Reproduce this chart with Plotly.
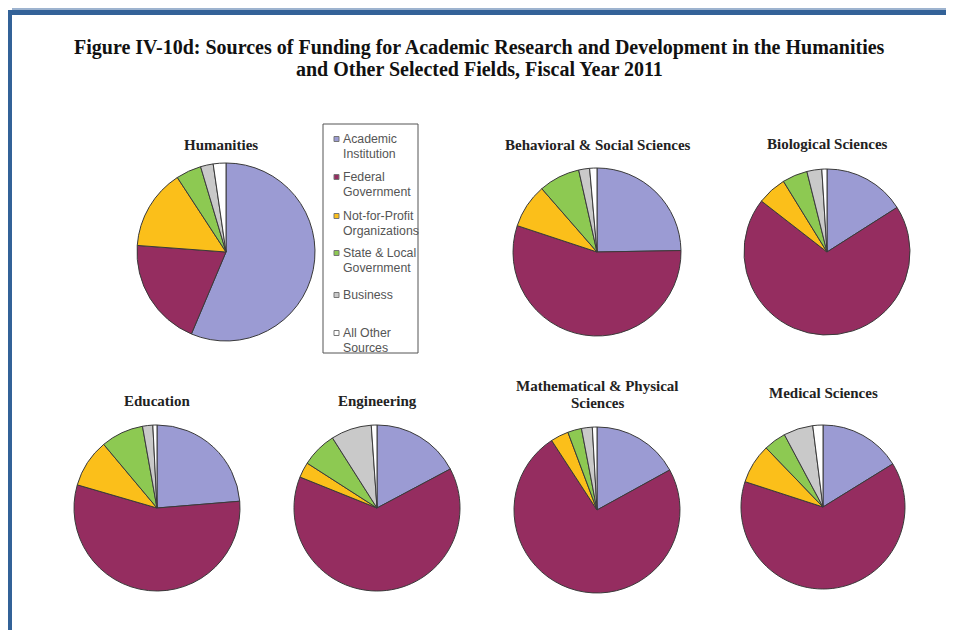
import plotly.graph_objects as go

# ---------------- data ----------------
sources = ["Academic Institution", "Federal Government", "Not-for-Profit Organizations",
           "State & Local Government", "Business", "All Other Sources"]
legend_lines = [["Academic", "Institution"], ["Federal", "Government"],
                ["Not-for-Profit", "Organizations"], ["State & Local", "Government"],
                ["Business"], ["All Other", "Sources"]]
colors = ["#9b9bd3", "#952d60", "#fbbf1a", "#8dc952", "#c9c9c9", "#ffffff"]

fields = ["Humanities", "Behavioral & Social Sciences", "Biological Sciences", "Education",
          "Engineering", "Mathematical & Physical<br>Sciences", "Medical Sciences"]

humanities = [56.3, 19.8, 14.6, 4.6, 2.3, 2.3]
behavioral = [24.7, 55.3, 8.5, 7.9, 2.1, 1.4]
biological = [16.0, 69.6, 5.7, 4.9, 2.9, 1.0]
education = [23.7, 55.8, 9.4, 8.3, 2.0, 0.8]
engineering = [17.2, 63.8, 3.0, 6.9, 7.9, 1.1]
math_physical = [17.0, 73.8, 3.5, 2.7, 2.1, 0.9]
medical = [16.2, 63.8, 7.8, 4.4, 5.8, 2.0]
series = [humanities, behavioral, biological, education, engineering, math_physical, medical]

title_lines = ["Figure IV-10d: Sources of Funding for Academic Research and Development in the Humanities",
               "and Other Selected Fields, Fiscal Year 2011"]

# ---------------- layout geometry (page pixels) ----------------
OFF = 8                      # page body margin in the browser
W, H = 954 - OFF, 630 - OFF  # figure size
pie_geom = [(226, 252, 89), (597, 252, 84), (827, 252, 83), (157, 508, 83),
            (377, 508, 83), (597, 510, 83), (823, 507, 82)]
title_pos = [(221, 145), (598, 145), (827, 144), (157, 401), (377, 401), (597, 394.5), (823, 393)]

def px(x):
    return (x - OFF) / W

def py(y):
    return 1 - (y - OFF) / H

fig = go.Figure()
for name, vals, (cx, cy, r) in zip(fields, series, pie_geom):
    fig.add_trace(go.Pie(
        labels=sources, values=vals, name=name.replace("<br>", " "),
        sort=False, direction="clockwise", rotation=0,
        textinfo="none", hoverinfo="label+percent",
        marker=dict(colors=colors, line=dict(color="#3a3a3a", width=1)),
        domain=dict(x=[px(cx - r), px(cx + r)], y=[py(cy + r), py(cy - r)]),
        showlegend=False,
    ))

annotations = []
shapes = []
serif = "Liberation Serif"

# main title (two lines)
for t, ty in zip(title_lines, [47, 69]):
    annotations.append(dict(text="<b>" + t + "</b>", x=px(479), y=py(ty), xref="paper", yref="paper",
                            showarrow=False, font=dict(family=serif, size=20, color="#111"),
                            xanchor="center", yanchor="middle"))
# pie titles
for name, (tx, ty) in zip(fields, title_pos):
    parts = name.split("<br>")
    n = len(parts)
    for k, part in enumerate(parts):
        yy = ty + (k - (n - 1) / 2) * 17
        annotations.append(dict(text="<b>" + part + "</b>", x=px(tx), y=py(yy), xref="paper", yref="paper",
                                showarrow=False, font=dict(family=serif, size=15, color="#222"),
                                xanchor="center", yanchor="middle"))

# legend box (built from the category lists)
shapes.append(dict(type="rect", xref="paper", yref="paper", x0=px(323), x1=px(418), y0=py(124), y1=py(353),
                   line=dict(color="#555", width=1), fillcolor="white", layer="below"))
legend_y = [139, 177, 216, 253, 295, 333]
for lines, col, ly in zip(legend_lines, colors, legend_y):
    shapes.append(dict(type="rect", xref="paper", yref="paper", x0=px(334), x1=px(339), y0=py(ly + 2.5),
                       y1=py(ly - 2.5), line=dict(color="#777", width=1), fillcolor=col))
    for k, t in enumerate(lines):
        annotations.append(dict(text=t, x=px(341), y=py(ly + 15 * k), xref="paper", yref="paper",
                                showarrow=False, xanchor="left", yanchor="middle",
                                font=dict(family="Liberation Sans", size=12.3, color="#555")))

# page frame
shapes.append(dict(type="rect", xref="paper", yref="paper", x0=px(12), x1=px(954), y0=py(10), y1=py(8),
                   line=dict(width=0), fillcolor="#9db3cf"))
shapes.append(dict(type="rect", xref="paper", yref="paper", x0=px(8), x1=px(954), y0=py(15), y1=py(10),
                   line=dict(width=0), fillcolor="#336298"))
shapes.append(dict(type="rect", xref="paper", yref="paper", x0=px(8), x1=px(12), y0=py(630), y1=py(10),
                   line=dict(width=0), fillcolor="#336298"))

fig.update_layout(
    width=W, height=H, autosize=False,
    margin=dict(l=0, r=0, t=0, b=0),
    paper_bgcolor="white", plot_bgcolor="white",
    annotations=annotations, shapes=shapes,
    showlegend=False,
)

fig.write_html("out.html")
